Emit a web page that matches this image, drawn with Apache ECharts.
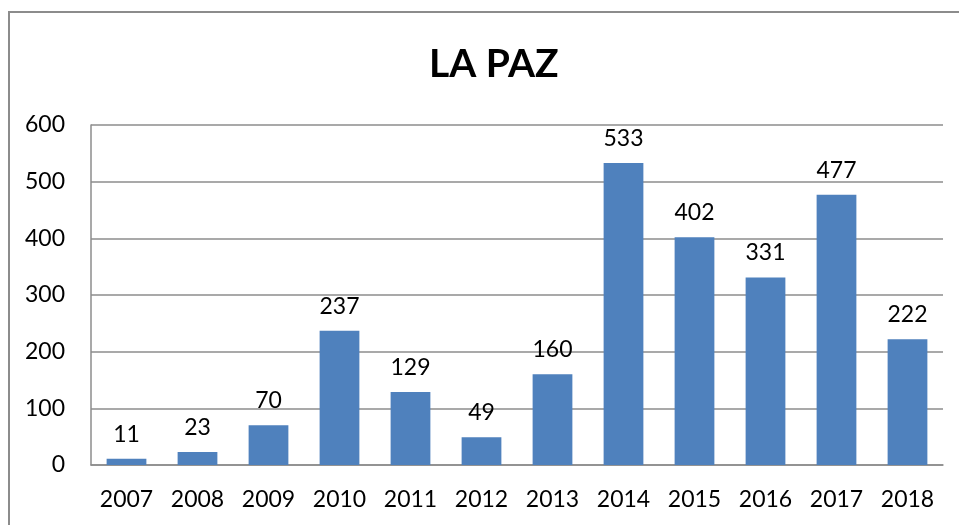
<!DOCTYPE html>
<html>
<head>
<meta charset="utf-8">
<script src="https://cdn.jsdelivr.net/npm/echarts@6/dist/echarts.min.js"></script>
<style>
  html, body { margin: 0; padding: 0; background: #fff; }
  #chart { width: 959px; height: 525px; }
</style>
</head>
<body>
<div id="chart"></div>
<script>
const years = ['2007', '2008', '2009', '2010', '2011', '2012', '2013', '2014', '2015', '2016', '2017', '2018']
const counts = [11, 23, 70, 237, 129, 49, 160, 533, 402, 331, 477, 222]
const yTicks = [0, 100, 200, 300, 400, 500, 600]

const font = 'Lato, "Open Sans", sans-serif'
const chart = echarts.init(document.getElementById('chart'), null, { renderer: 'canvas' })

chart.setOption({
  backgroundColor: '#fff',
  animation: false,
  title: {
    text: 'LA PAZ',
    left: 424,
    top: 40,
    textStyle: { fontFamily: font, fontSize: 39, fontWeight: 'bold', color: '#000' },
  },
  graphic: [
    {
      type: 'rect',
      shape: { x: 9, y: 12, width: 980, height: 540 },
      style: { fill: 'none', stroke: '#8c8c8c', lineWidth: 2 },
      silent: true,
    },
  ],
  grid: { left: 91, right: 16, top: 125, bottom: 60, containLabel: false },
  xAxis: {
    type: 'category',
    data: years,
    axisLine: { show: true, lineStyle: { color: '#8c8c8c', width: 1.5 } },
    axisTick: { show: false },
    axisLabel: { color: '#000', fontFamily: font, fontSize: 23, margin: 23 },
  },
  yAxis: {
    type: 'value',
    min: yTicks[0],
    max: yTicks[yTicks.length - 1],
    interval: 100,
    axisLine: { show: true, lineStyle: { color: '#8c8c8c', width: 1.5 } },
    axisTick: { show: false },
    splitLine: { lineStyle: { color: '#8c8c8c', width: 1.5 } },
    axisLabel: { color: '#000', fontFamily: font, fontSize: 23, margin: 26 },
  },
  series: [
    {
      type: 'bar',
      data: counts,
      barCategoryGap: '44%',
      itemStyle: { color: '#4f81bd' },
      label: {
        show: true,
        position: 'top',
        distance: 13,
        color: '#000',
        fontFamily: font,
        fontSize: 23,
      },
    },
  ],
})
</script>
</body>
</html>
